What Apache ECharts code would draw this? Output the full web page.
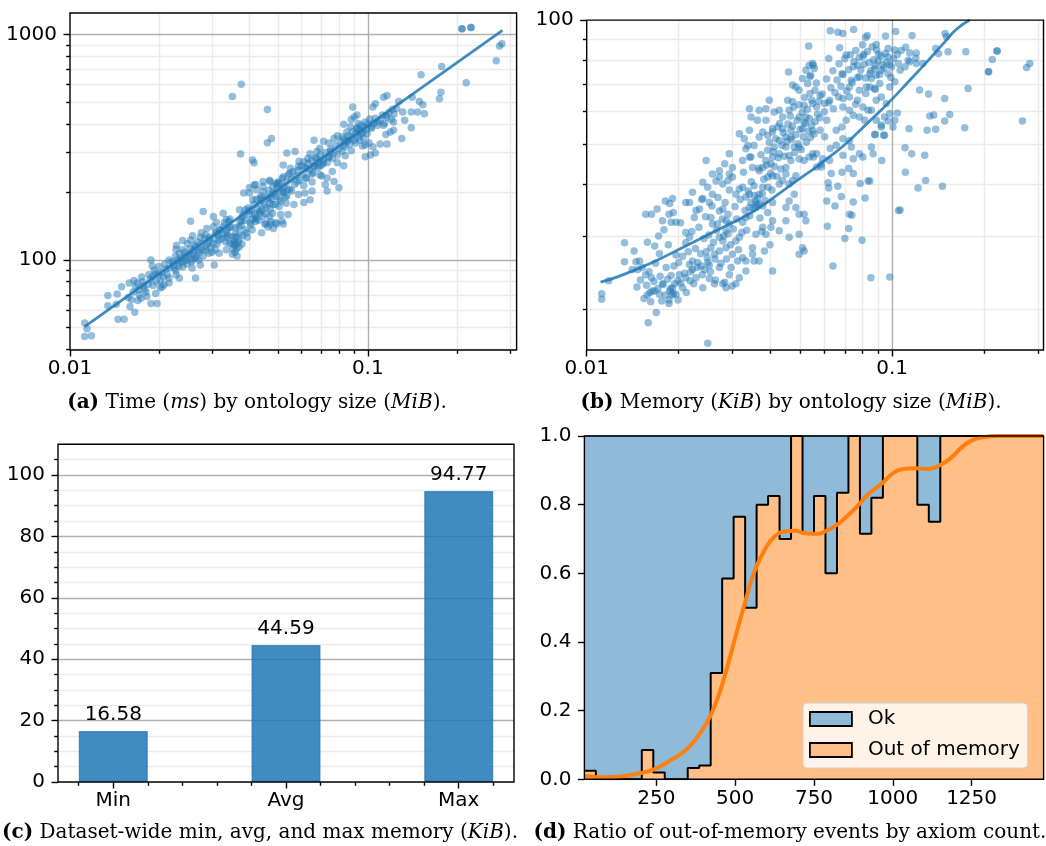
<!DOCTYPE html>
<html><head><meta charset="utf-8">
<script src="https://cdn.jsdelivr.net/npm/echarts@6/dist/echarts.min.js"></script>
<style>html,body{margin:0;padding:0;background:#fff}#c{width:1046px;height:846px}</style>
</head><body><div id="c"></div>
<script>
// ---------------- DATA ----------------
// (a) time (ms) vs ontology size (MiB)
const timeBySize = [
[0.0112,52.5],[0.0112,45.7],[0.0118,46],[0.0114,49.5],[0.0134,69.5],[0.0134,62.5],[0.0144,70.5],[0.0145,54.5],[0.0152,54.5],[0.0149,76],[0.0143,63.5],[0.0158,79],[0.0164,81],[0.0168,79],[0.0159,62],[0.0165,58.5],[0.0161,66.5],[0.0170,73.6],[0.0176,76.5],[0.0181,68.8],[0.0187,64],[0.0196,64],[0.0189,84.4],[0.0194,86.7],[0.0201,81],[0.0207,77.5],[0.0210,91],[0.0187,100],[0.0189,94],[0.0199,93.4],[0.0215,100],[0.0222,95],[0.0227,89.8],[0.0215,83],[0.0233,83],[0.0239,93],[0.0245,99.5],[0.0252,106],[0.0264,114],[0.0264,83],[0.0233,107],[0.0227,111.5],[0.0239,122],[0.0254,122.5],[0.0259,110],[0.0274,126],[0.0286,129],[0.0293,122],[0.0278,111],[0.0271,100],[0.0303,117.5],[0.0310,131],[0.0318,136],[0.0303,140.5],[0.0310,146.5],[0.0327,140.5],[0.0342,148],[0.0336,126],[0.0359,139],[0.0378,149.5],[0.0371,130.5],[0.0359,117.5],[0.0378,117.5],[0.0394,126],[0.0409,136],[0.0420,156],[0.0434,161],[0.0456,171],[0.0468,178.5],[0.0492,191],[0.0479,198],[0.0504,219],[0.0520,234],[0.0546,242],[0.0468,226],[0.0445,212],[0.0423,205],[0.0411,185],[0.0401,198],[0.0468,156],[0.0494,144.5],[0.0520,144.5],[0.0482,138],[0.0280,164],[0.0254,148.5],[0.0303,156],[0.0327,161],[0.0342,139],[0.0371,167],[0.0388,167],[0.0383,198],[0.0415,215],[0.0374,295],[0.0415,270],[0.0305,95],[0.0264,102],[0.0215,79],[0.0201,75],
[0.0233,97],[0.0244,103.5],[0.0257,100],[0.0271,111],[0.0286,114.5],[0.0293,107],[0.0308,111],[0.0317,122.5],[0.0335,131],[0.0352,127],[0.0359,131],[0.0369,122.5],[0.0388,136],[0.0405,143],[0.0420,148],[0.0443,156],[0.0454,145.5],[0.0479,161],[0.0504,172.5],[0.0532,178.5],[0.0538,205],[0.0443,185],[0.0378,156],[0.0343,118.5],[0.0317,107],[0.0257,92],[0.0227,86],[0.0204,76],[0.0194,71],[0.0180,72],[0.0173,67.5],[0.0239,111],[0.0274,95],[0.0335,111],[0.0369,140.5],[0.0399,159],[0.0335,151],[0.0492,219],[0.0520,198],
[0.2071,1063],[0.2221,1076],[0.2071,1063],[0.2221,1076],[0.277,891],[0.282,912],[0.270,765],[0.214,611],[0.177,722],[0.151,663],[0.176,555],[0.174,519],[0.149,505],[0.141,528],[0.153,488],[0.155,446],[0.140,454],[0.131,454],[0.147,454],[0.133,417],[0.140,386],[0.130,346],[0.122,410],[0.119,370],[0.115,360],[0.113,396],[0.122,376],[0.116,537],[0.113,528],[0.106,493],[0.104,477],[0.127,505],[0.121,466],[0.115,439],[0.108,410],[0.103,390],[0.0995,364],[0.097,346],[0.098,324],[0.104,318],[0.106,298],[0.110,327],[0.116,327],[0.102,292],[0.098,287],[0.090,431],[0.0875,390],[0.085,370],[0.092,383],[0.095,364],[0.093,403],[0.089,477],[0.082,352],[0.079,356],[0.083,324],[0.086,340],[0.077,346],[0.074,330],[0.075,303],[0.071,336],[0.069,313],[0.0675,303],[0.066,340],[0.067,283],[0.063,283],[0.061,273],[0.057,303],[0.0535,298],[0.052,264],[0.055,255],[0.0585,260],[0.0625,255],[0.066,260],[0.069,239],[0.073,231],[0.076,247],[0.080,209],[0.073,202],[0.077,223],[0.072,216],[0.065,202],[0.0615,198],[0.064,185],[0.061,180],[0.0585,195],[0.0555,202],[0.052,202],[0.0495,216],[0.047,223],[0.0445,223],[0.042,216],[0.040,209],[0.0435,188],[0.0465,188],[0.048,176],[0.051,182],[0.0535,192],[0.0565,176],[0.051,159],[0.0515,149],[0.049,146],[0.047,144],[0.0435,165],[0.042,152],[0.040,165],[0.054,159],[0.041,278],[0.046,331],[0.0475,346],[0.046,465],[0.0376,602],[0.0351,531],
[0.084,290],[0.088,305],[0.091,330],[0.094,340],[0.079,270],[0.083,262],[0.071,270],[0.074,285],[0.062,230],[0.058,222],[0.065,240],[0.069,262],
[0.0163,72],[0.0171,70],[0.0175,80],[0.0178,74],[0.0183,78],[0.0186,82],[0.0190,77],[0.0192,90],[0.0195,80],[0.0198,86],[0.0184,86],[0.0169,66],[0.0157,68],[0.0166,76],[0.0174,84],[0.0203,88],[0.0206,84],[0.0208,96],[0.0212,86],[0.0216,92],
[0.0220,98],[0.0224,92],[0.0226,104],[0.0230,100],[0.0232,94],[0.0236,102],[0.0240,98],[0.0243,108],[0.0247,96],[0.0250,104],[0.0253,112],[0.0256,98],[0.0260,106],[0.0262,116],[0.0266,104],[0.0268,120],[0.0272,108],[0.0276,118],[0.0280,104],[0.0283,124],[0.0286,110],[0.0290,118],[0.0294,126],[0.0297,114],[0.0300,108],[0.0228,116],[0.0248,118],[0.0258,128],[0.0276,132],[0.0288,138],
[0.0304,124],[0.0308,132],[0.0312,118],[0.0315,128],[0.0320,136],[0.0323,124],[0.0326,130],[0.0330,146],[0.0333,120],[0.0337,136],[0.0340,128],[0.0344,152],[0.0347,140],[0.0350,118],[0.0353,112],[0.0355,122],[0.0357,116],[0.0360,126],[0.0363,112],[0.0366,120],[0.0370,114],[0.0372,148],[0.0376,142],[0.0380,128],[0.0384,160],[0.0388,150],[0.0392,132],[0.0396,170],[0.0351,106],[0.0358,108],[0.0364,104],
[0.0402,146],[0.0406,166],[0.0410,152],[0.0414,176],[0.0418,160],[0.0422,186],[0.0426,168],[0.0430,150],[0.0434,178],[0.0438,192],[0.0442,166],[0.0446,200],[0.0450,176],[0.0455,160],[0.0460,190],[0.0465,204],[0.0470,168],[0.0475,186],[0.0480,212],[0.0485,196],[0.0490,176],[0.0495,206],[0.0500,222],[0.0505,186],[0.0510,200],[0.0516,230],[0.0522,212],[0.0528,190],[0.0534,222],[0.0540,238],[0.0546,206],[0.0452,144],[0.0462,140],[0.0472,148],[0.0440,132],
[0.0553,228],[0.0560,246],[0.0568,216],[0.0575,236],[0.0582,250],[0.0590,226],[0.0598,262],[0.0606,240],[0.0614,256],[0.0622,232],[0.0630,268],[0.0638,250],[0.0646,276],[0.0654,244],[0.0662,262],[0.0670,284],[0.0678,256],[0.0686,272],[0.0694,292],[0.0702,264],[0.0710,280],[0.0720,300],[0.0730,270],[0.0740,288],[0.0750,310],[0.0760,282],[0.0770,300],[0.0780,322],[0.0790,292],[0.0800,312],[0.0610,214],[0.0650,222],[0.0700,236],[0.0588,274],[0.0640,296],
[0.0810,334],[0.0820,304],[0.0830,344],[0.0840,318],[0.0850,336],[0.0860,356],[0.0870,326],[0.0880,348],[0.0890,372],[0.0900,340],[0.0910,362],[0.0920,384],[0.0930,352],[0.0940,376],[0.0950,396],[0.0960,366],[0.0970,388],[0.0980,410],[0.0990,378],[0.1000,400],[0.1015,422],[0.1030,384],[0.1045,404],[0.1060,426],[0.1080,396],[0.1100,418],[0.1120,440],[0.1140,404],[0.1160,430],[0.1180,452],[0.1200,420],[0.1225,444],[0.1250,470],[0.0880,420],[0.0920,440],[0.0830,400],[0.1010,330],[0.0960,320]
];
const timeTrend = [[0.0112,50.6],[0.2833,1046]];

// (b) memory (KiB) vs ontology size (MiB)
const memBySize = [
[0.0112,21.75],[0.0112,21.1],[0.0118,23.4],[0.0133,28.9],[0.0133,26.0],[0.0143,27.6],[0.0145,26.0],[0.0147,24.9],[0.0152,25.2],[0.0158,21.6],[0.0161,21.9],[0.0167,22.1],[0.0159,18.5],[0.0169,19.6],[0.0186,20.6],[0.0163,33.9],[0.0170,34.9],[0.0179,31.1],[0.0181,36.5],[0.0187,36.0],[0.0191,37.0],[0.0186,33.9],[0.0192,34.2],[0.0196,32.4],[0.0203,32.3],[0.0189,32.4],[0.0173,27.2],[0.0167,28.4],[0.0182,25.2],[0.0189,24.1],[0.0194,23.0],[0.0191,22.5],[0.0201,24.2],[0.0206,22.5],[0.0211,23.8],[0.0217,25.6],[0.0222,24.9],[0.0222,26.1],[0.0231,25.9],[0.0237,25.4],[0.0243,24.9],[0.0249,25.9],[0.0240,22.5],[0.0252,23.7],[0.0262,23.0],[0.0272,25.2],[0.0279,23.0],[0.0283,23.2],[0.0297,25.2],[0.0299,22.7],[0.0211,28.9],[0.0217,29.8],[0.0211,30.6],[0.0217,36.2],[0.0222,38.3],[0.0211,36.2],[0.0225,33.3],[0.0234,34.9],[0.0240,37.0],[0.0252,36.2],[0.0255,33.3],[0.0258,32.1],[0.0268,32.1],[0.0272,34.5],[0.0279,34.9],[0.0286,32.7],[0.0290,33.9],[0.0293,32.1],[0.0286,30.9],[0.0279,29.2],[0.0272,27.6],[0.0255,28.1],[0.0262,27.1],[0.0286,28.1],[0.0300,27.1],[0.0308,29.2],[0.0316,29.8],[0.0324,32.4],[0.0332,33.3],[0.0341,35.2],[0.0345,36.2],[0.0358,35.2],[0.0367,35.9],[0.0377,35.5],[0.0391,34.2],[0.0406,36.2],[0.0406,32.7],[0.0401,31.5],[0.0377,31.5],[0.0358,30.3],[0.0349,28.1],[0.0349,27.1],[0.0332,24.7],[0.0324,26.6],[0.0312,26.1],[0.0382,27.6],[0.0406,24.7],[0.0367,26.1],[0.0386,30.3],[0.0240,40.5],[0.0249,39.4],[0.0258,37.9],[0.0272,41.7],[0.0279,40.1],[0.0290,40.9],[0.0300,41.7],[0.0308,37.9],[0.0316,39.0],[0.0324,39.4],[0.0332,37.3],[0.0341,37.9],[0.0353,39.7],[0.0367,37.9],[0.0377,39.4],[0.0391,41.7],[0.0406,42.0],[0.0427,40.1],[0.0438,40.9],[0.0449,42.4],[0.0460,40.1],[0.0472,40.9],[0.0478,37.9],[0.0460,36.5],[0.0449,35.2],[0.0484,35.2],[0.0496,33.9],[0.0515,33.9],[0.0496,30.3],[0.0515,27.6],[0.0509,28.1],[0.0522,32.7],[0.0449,44.0],[0.0466,45.7],[0.0484,42.0],[0.0496,46.1],[0.0515,45.7],[0.0535,46.6],[0.0549,47.5],[0.0406,46.6],[0.0386,45.7],[0.0377,44.0],[0.0367,43.2],[0.0349,44.0],[0.0341,46.6],[0.0332,48.8],[0.0345,46.6],[0.0353,49.7],[0.0367,52.1],[0.0377,53.6],[0.0391,52.6],[0.0406,53.6],[0.0422,55.1],[0.0438,54.6],[0.0449,52.1],[0.0466,52.1],[0.0478,49.3],[0.0427,47.5],[0.0411,49.3],[0.0391,48.4],[0.0401,44.9],[0.0427,51.1],[0.0316,53.1],[0.0328,51.6],[0.0341,54.1],[0.0337,49.7],[0.0324,45.7],[0.0300,44.0],[0.0293,47.5],[0.0283,44.9],[0.0293,42.4],[0.0272,43.2],[0.0258,42.4],[0.0246,45.7],[0.0367,60.5],[0.0386,61.0],[0.0396,64.0],[0.0411,59.9],[0.0427,60.5],[0.0438,58.3],[0.0455,64.0],[0.0472,63.4],[0.0460,60.5],[0.0345,58.3],[0.0341,61.0],[0.0362,57.2],[0.0386,57.2],[0.0406,54.6],[0.0466,54.1],[0.0496,58.3],[0.0509,54.6],[0.0515,56.6],[0.0522,58.3],[0.0484,68.9],[0.0496,67.6],[0.0509,72.2],[0.0522,75.6],[0.0535,77.8],[0.0549,78.5],[0.0472,69.6],[0.0515,62.2],[0.0529,70.2],[0.0541,73.5],[0.0556,76.4],[0.0458,74.9],[0.0533,86.5],[0.0538,66.4],[0.0549,62.8],[0.0496,49.3],[0.0449,49.3],[0.0156,33.9],[0.0177,32.7],[0.0246,27.5],[0.0496,27.1],[0.0460,29.8],[0.0449,32.7],[0.0427,30.9],[0.0286,22.5],[0.0316,23.8],[0.0332,26.1],[0.0353,26.1],[0.0308,23.0],[0.0293,24.2],[0.0264,23.5],[0.0252,25.5],[0.0228,23.8],[0.0218,23.4],[0.0199,23.4],[0.0196,21.7],[0.0187,22.1],[0.0177,23.0],[0.0173,21.7],[0.0164,22.1],[0.0163,23.8],[0.0156,24.2],[0.0149,26.1],[0.0141,24.9],[0.0249,16.5],
[0.0627,94.2],[0.0664,93.5],[0.0690,92.8],[0.0748,94.9],[0.0819,90.8],[0.0829,91.8],[0.0951,91.5],[0.1027,93.9],[0.1162,91.8],[0.1491,92.8],[0.1506,91.1],[0.0673,85.7],[0.0707,82.3],[0.0620,80.7],[0.0808,82.7],[0.0802,81.8],[0.0887,87.3],[0.0903,82.7],[0.0970,81.5],[0.1020,84.6],[0.1107,85.9],[0.1142,83.3],[0.1200,83.3],[0.1195,80.8],[0.1128,80.0],[0.1262,78.5],[0.1389,85.4],[0.1418,83.0],[0.1524,83.8],[0.1742,83.8],[0.2128,80.3],[0.2206,84.2],[0.2206,84.2],[0.2068,75.0],[0.2068,75.0],[0.2822,78.5],[0.2755,76.8],[0.1773,68.3],[0.1486,64.6],[0.1544,59.1],[0.1368,58.9],[0.1328,58.6],[0.1486,57.0],[0.1389,54.4],[0.1302,54.1],[0.1728,54.9],[0.2671,57.0],[0.1230,67.7],[0.1316,66.2],[0.1136,54.6],[0.1040,59.6],[0.1020,57.2],[0.1006,55.1],[0.0938,52.6],[0.0877,52.9],[0.0922,55.7],[0.0970,57.0],[0.0982,59.4],[0.1102,49.1],[0.1159,47.5],[0.1278,47.1],[0.1105,42.8],[0.1287,40.9],[0.1216,39.2],[0.1461,39.6],[0.1049,34.6],[0.1062,34.7],[0.0982,23.9],[0.0852,23.8],[0.0640,25.4],[0.0797,29.3],[0.0700,29.6],[0.0721,31.3],[0.0614,31.7],[0.0746,36.3],[0.0815,37.1],[0.0725,33.9],[0.0738,33.7],[0.0650,35.5],[0.0611,36.5],[0.0682,37.4],[0.0786,40.2],[0.0834,40.8],[0.0845,40.8],[0.0664,39.6],[0.0617,40.4],[0.0746,42.5],[0.0721,43.7],[0.0685,42.8],[0.0632,42.5],[0.0587,44.1],[0.0866,47.5],[0.0925,45.7],[0.0855,49.3],[0.0880,52.8],[0.0944,52.6],[0.0735,49.3],[0.0781,47.5],[0.0802,46.6],[0.0746,46.2],[0.0690,47.1],[0.0656,49.8],[0.0627,48.9],[0.0593,46.2],[0.0566,47.5],[0.0601,52.2],[0.0656,54.1],[0.0685,55.1],[0.0707,57.2],[0.0746,58.8],[0.0781,58.3],[0.0813,57.2],[0.0855,60.5],[0.0887,57.2],[0.0922,55.1],[0.0944,58.3],[0.0770,64.0],[0.0802,61.6],[0.0834,60.5],[0.0887,64.0],[0.0922,65.1],[0.0958,62.8],[0.0725,60.5],[0.0690,61.6],[0.0642,61.0],[0.0601,62.8],[0.0566,61.6],[0.0545,64.0],[0.0581,65.7],[0.0624,64.0],[0.0668,65.1],[0.0725,65.1],[0.0690,64.6],[0.0781,67.6],[0.0845,68.9],[0.0876,68.3],[0.0910,70.2],[0.0982,68.9],[0.1020,70.9],[0.0855,72.2],[0.0887,73.5],[0.0922,75.6],[0.0970,74.2],[0.0995,77.1],[0.1049,78.5],[0.1102,77.1],[0.1142,79.3],[0.1200,78.5],[0.1062,75.6],[0.0876,76.4],[0.0845,74.2],[0.0824,68.9],[0.0781,72.9],[0.0735,71.5],[0.0725,68.9],[0.0770,77.8],[0.0746,77.1],[0.0685,74.2],[0.0559,67.6],[0.0538,72.9],[0.0552,77.8],[0.0611,57.2],[0.0581,54.1],[0.0690,51.6],[0.0725,51.1],[0.0566,44.1],[0.0552,46.6],[0.0624,45.7],
[0.0146,22.6],[0.0150,23.5],[0.0154,21.2],[0.0157,22.8],[0.0160,24.6],[0.0162,20.8],[0.0166,23.3],[0.0168,25.8],[0.0171,22.4],[0.0174,24.0],[0.0176,20.9],[0.0178,22.9],[0.0181,21.6],[0.0184,23.6],[0.0186,21.0],[0.0188,22.4],[0.0190,21.6],[0.0192,21.8],[0.0193,25.4],[0.0196,27.0],[0.0199,21.0],[0.0200,25.9],[0.0185,28.6],[0.0172,30.0],[0.0158,29.0],
[0.0203,23.1],[0.0206,26.8],[0.0209,24.4],[0.0212,21.9],[0.0215,27.5],[0.0219,24.6],[0.0221,30.8],[0.0224,23.0],[0.0227,28.0],[0.0230,25.2],[0.0233,31.5],[0.0236,27.2],[0.0239,24.2],[0.0242,29.6],[0.0245,33.4],[0.0248,26.6],[0.0251,30.2],[0.0254,24.6],[0.0257,35.5],[0.0260,29.0],[0.0263,26.4],[0.0266,31.0],[0.0269,37.2],[0.0272,29.8],[0.0275,25.8],[0.0278,33.0],[0.0281,30.0],[0.0284,36.2],[0.0287,26.4],[0.0290,30.4],[0.0293,38.8],[0.0296,28.6],[0.0228,34.6],[0.0238,36.8],[0.0265,40.8],
[0.0302,31.2],[0.0306,35.4],[0.0310,33.0],[0.0314,27.8],[0.0318,36.8],[0.0322,30.6],[0.0326,42.8],[0.0330,34.6],[0.0334,31.0],[0.0338,38.6],[0.0342,33.6],[0.0346,40.6],[0.0350,35.0],[0.0354,37.6],[0.0357,36.4],[0.0360,35.8],[0.0363,37.0],[0.0366,43.8],[0.0369,33.2],[0.0372,47.2],[0.0376,38.0],[0.0380,41.2],[0.0384,36.6],[0.0388,44.6],[0.0392,39.4],[0.0396,50.6],[0.0400,42.6],[0.0404,38.8],[0.0408,48.0],[0.0412,44.2],[0.0416,51.6],[0.0420,41.8],[0.0424,46.4],[0.0428,56.2],[0.0432,43.6],[0.0436,49.8],[0.0440,53.4],[0.0444,46.8],[0.0374,30.8],[0.0398,28.6],
[0.0452,50.8],[0.0456,56.0],[0.0460,47.0],[0.0464,58.6],[0.0468,51.4],[0.0472,55.4],[0.0476,61.6],[0.0480,47.8],[0.0484,52.8],[0.0488,57.2],[0.0492,50.2],[0.0496,62.4],[0.0500,54.4],[0.0504,48.6],[0.0508,59.8],[0.0512,52.2],[0.0516,65.0],[0.0520,56.2],[0.0524,50.6],[0.0528,60.8],[0.0532,53.8],[0.0536,57.8],[0.0540,52.0],[0.0545,55.6],[0.0550,54.0],[0.0555,53.0],[0.0560,56.8],[0.0565,70.4],[0.0570,59.2],[0.0575,63.6],[0.0580,58.0],[0.0590,66.2],[0.0600,60.0],[0.0610,72.0],[0.0620,63.2],[0.0630,68.6],[0.0640,75.4],[0.0650,66.8],[0.0585,44.8],[0.0620,39.2],
[0.0660,71.6],[0.0670,78.4],[0.0680,69.2],[0.0690,73.8],[0.0700,80.6],[0.0710,67.4],[0.0720,75.8],[0.0730,82.4],[0.0740,70.6],[0.0750,79.4],[0.0760,84.4],[0.0770,72.6],[0.0780,81.2],[0.0790,75.8],[0.0800,87.2],[0.0810,78.2],[0.0820,72.4],[0.0830,84.0],[0.0840,79.0],[0.0850,75.4],[0.0860,86.2],[0.0870,80.2],[0.0880,77.6],[0.0890,84.6],[0.0900,79.6],[0.0910,73.8],[0.0920,81.8],[0.0930,78.0],[0.0940,76.6],[0.0950,83.0],[0.0960,79.2],[0.0970,85.4],[0.0980,78.0],[0.0990,72.6],[0.1010,80.6],[0.1040,82.6],[0.1070,84.4],[0.0760,62.6],[0.0820,66.4],[0.0880,68.0]
];
const memTrend = [[0.0111,23.2],[0.0128,24.0],[0.0164,25.9],[0.0211,28.4],[0.0272,31.2],[0.0332,33.6],[0.0377,35.6],[0.0449,39.1],[0.0509,41.8],[0.0563,44.0],[0.0608,46.0],[0.0690,49.5],[0.0781,53.9],[0.0887,59.0],[0.0996,64.2],[0.1142,71.5],[0.1295,79.0],[0.1468,87.6],[0.1624,95.0],[0.1795,100]];

// (c) dataset-wide memory stats (KiB)
const memCategories = ['Min', 'Avg', 'Max'];
const memStats = [16.58, 44.59, 94.77];

// (d) out-of-memory ratio by axiom count
const axiomBinEdges = [21.5,57.9,94.4,130.8,167.2,203.6,240.1,276.5,312.9,349.3,385.8,422.2,458.6,495.0,531.5,567.9,604.3,640.7,677.2,713.6,750.0,786.4,822.9,859.3,895.7,932.1,968.6,1005.0,1041.4,1077.8,1114.3,1150.7,1187.1,1223.5,1260.0,1296.4,1332.8,1369.2,1405.7,1442.1,1478.5];
const oomRatio = [0.025,0,0,0,0,0.085,0.02,0,0,0.033,0.04,0.31,0.585,0.765,0.50,0.80,0.825,0.70,1.0,0.715,0.825,0.60,0.835,1.0,0.715,0.82,1.0,1.0,1.0,0.80,0.75,1.0,1.0,1.0,1.0,1.0,1.0,1.0,1.0,1.0];
const kdeX = [23,83,135,189,242,295,349,402,434,466,498,529,561,593,625,657,689,721,763,785,822,859,891,923,966,997,1029,1072,1114,1152,1189,1221,1253,1285,1327,1400,1478];
const kdeY = [0.010,0.006,0.008,0.016,0.029,0.056,0.090,0.153,0.211,0.299,0.406,0.508,0.605,0.668,0.707,0.722,0.724,0.717,0.715,0.722,0.741,0.770,0.799,0.831,0.862,0.889,0.903,0.906,0.904,0.916,0.940,0.969,0.988,0.996,1.0,1.0,1.0];

// tick values / labels
const sizeTicks = [0.01, 0.1];
const sizeTickLabels = ['0.01', '0.1'];
const sizeMinorTicks = [0.02,0.03,0.04,0.05,0.06,0.07,0.08,0.09,0.2,0.3];
const timeTicks = [100, 1000];
const timeTickLabels = ['100', '1000'];
const timeMinorTicks = [40,50,60,70,80,90,200,300,400,500,600,700,800,900];
const memTicks = [100];
const memTickLabels = ['100'];
const memMinorTicks = [20,30,40,50,60,70,80,90];
const statTicks = [0,20,40,60,80,100];
const statMinorTicks = [5,10,15,25,30,35,45,50,55,65,70,75,85,90,95,105];
const statCatMinorTicks = [-0.2,0.2,0.4,0.6,0.8,1.2,1.4,1.6,1.8,2.2];
const ratioTicks = [0,0.2,0.4,0.6,0.8,1.0];
const axiomTicks = [250,500,750,1000,1250];

// ---------------- CHART ----------------
const FONT = 'DejaVu Sans';
const LBL = 20;
const MAJ = '#b0b0b0', MIN = '#ebebeb';
const chart = echarts.init(document.getElementById('c'), null, {renderer: 'canvas'});
const lg = Math.log10;

function lookup(vals, labels) {
  return function (v) {
    for (let i = 0; i < vals.length; i++) if (Math.abs(vals[i] - v) < 1e-6) return labels[i];
    return '';
  };
}
function dataAxis(type, grid, min, max, pos) {
  return {type: type, gridIndex: grid, min: min, max: max, position: pos, logBase: 10,
    axisLine: {show: false, onZero: false}, axisTick: {show: false}, axisLabel: {show: false},
    splitLine: {show: false}, minorTick: {show: false}, axisPointer: {show: false}};
}
function tickAxis(grid, min, max, pos, ticks, len, labelFmt, margin) {
  return {type: 'value', gridIndex: grid, min: min, max: max, position: pos,
    axisLine: {show: false, onZero: false}, splitLine: {show: false}, axisPointer: {show: false},
    axisTick: {show: true, customValues: ticks, length: len, lineStyle: {color: '#000', width: 1.4}},
    axisLabel: labelFmt ? {show: true, customValues: ticks, formatter: labelFmt, margin: margin,
      color: '#000', fontSize: LBL, fontFamily: FONT} : {show: false}};
}
function gridLineSeries(ax, xs, ys, color, z) {
  return {type: 'line', data: [], xAxisIndex: ax, yAxisIndex: ax, silent: true, z: z,
    markLine: {silent: true, z: z, symbol: ['none', 'none'], animation: false, label: {show: false},
      emphasis: {disabled: true},
      lineStyle: {color: color, width: 1.4, type: 'solid'},
      data: xs.map(v => ({xAxis: v})).concat(ys.map(v => ({yAxis: v})))}};
}

const aX = [0.01, 0.316], aY = [39.8, 1248];
const bX = [0.01, 0.313], bY = [15.9, 100];
const cX = [-0.32, 2.32], cY = [0, 110];
const dX = [axiomBinEdges[0], axiomBinEdges[axiomBinEdges.length - 1]], dY = [0, 1];

const logSizeFmt = v => lookup(sizeTicks.map(lg), sizeTickLabels)(v);

const xAxes = [
  dataAxis('log', 0, aX[0], aX[1], 'bottom'),
  tickAxis(0, lg(aX[0]), lg(aX[1]), 'bottom', sizeTicks.map(lg), 6.5, logSizeFmt, 9),
  tickAxis(0, lg(aX[0]), lg(aX[1]), 'bottom', sizeMinorTicks.map(lg), 3.8, null),
  dataAxis('log', 1, bX[0], bX[1], 'bottom'),
  tickAxis(1, lg(bX[0]), lg(bX[1]), 'bottom', sizeTicks.map(lg), 6.5, logSizeFmt, 9),
  tickAxis(1, lg(bX[0]), lg(bX[1]), 'bottom', sizeMinorTicks.map(lg), 3.8, null),
  tickAxis(2, cX[0], cX[1], 'bottom', [0, 1, 2], 6.5, v => memCategories[Math.round(v)], 9),
  tickAxis(2, cX[0], cX[1], 'bottom', statCatMinorTicks, 3.8, null),
  tickAxis(3, dX[0], dX[1], 'bottom', axiomTicks, 6.5, v => String(v), 9)
];
const yAxes = [
  dataAxis('log', 0, aY[0], aY[1], 'left'),
  tickAxis(0, lg(aY[0]), lg(aY[1]), 'left', timeTicks.map(lg), 6.5, lookup(timeTicks.map(lg), timeTickLabels), 13),
  tickAxis(0, lg(aY[0]), lg(aY[1]), 'left', timeMinorTicks.map(lg), 3.8, null),
  dataAxis('log', 1, bY[0], bY[1], 'left'),
  tickAxis(1, lg(bY[0]), lg(bY[1]), 'left', memTicks.map(lg), 6.5, lookup(memTicks.map(lg), memTickLabels), 13),
  tickAxis(1, lg(bY[0]), lg(bY[1]), 'left', memMinorTicks.map(lg), 3.8, null),
  tickAxis(2, cY[0], cY[1], 'left', statTicks, 6.5, v => String(v), 13),
  tickAxis(2, cY[0], cY[1], 'left', statMinorTicks, 3.8, null),
  tickAxis(3, dY[0], dY[1], 'left', ratioTicks, 6.5, v => v.toFixed(1), 13)
];

const gridBase = {show: true, z: 10, borderColor: '#000', borderWidth: 1.4, backgroundColor: 'rgba(0,0,0,0)', containLabel: false};
const grids = [
  Object.assign({left: 70, top: 13, width: 446.6, height: 337}, gridBase),
  Object.assign({left: 586.7, top: 20.1, width: 456.8, height: 329.9}, gridBase),
  Object.assign({left: 58, top: 444.3, width: 456, height: 337.7}, gridBase),
  Object.assign({left: 584.4, top: 436, width: 459.2, height: 343.3}, gridBase)
];

const stepPts = [];
oomRatio.forEach((r, i) => { stepPts.push([axiomBinEdges[i], r]); stepPts.push([axiomBinEdges[i + 1], r]); });
const kdePts = kdeX.map((x, i) => [x, kdeY[i]]);

const blue = '#1f77b4';
const series = [
  gridLineSeries(0, sizeMinorTicks, timeMinorTicks, MIN, 0),
  gridLineSeries(0, [0.1], timeTicks, MAJ, 1),
  {type: 'scatter', xAxisIndex: 0, yAxisIndex: 0, data: timeBySize, symbolSize: 7.5, z: 3,
    itemStyle: {color: blue, opacity: 0.48}, silent: true},
  {type: 'line', xAxisIndex: 0, yAxisIndex: 0, data: timeTrend, showSymbol: false, z: 4, silent: true,
    lineStyle: {color: 'rgba(31,119,180,0.85)', width: 2.8}},
  gridLineSeries(3, sizeMinorTicks, memMinorTicks, MIN, 0),
  gridLineSeries(3, [0.1], [], MAJ, 1),
  {type: 'scatter', xAxisIndex: 3, yAxisIndex: 3, data: memBySize, symbolSize: 7.5, z: 3,
    itemStyle: {color: blue, opacity: 0.48}, silent: true},
  {type: 'line', xAxisIndex: 3, yAxisIndex: 3, data: memTrend, showSymbol: false, smooth: true, z: 4, silent: true,
    lineStyle: {color: 'rgba(31,119,180,0.85)', width: 2.8}},
  gridLineSeries(6, [], statMinorTicks, MIN, 0),
  gridLineSeries(6, [], statTicks.slice(1), MAJ, 1),
  {type: 'bar', xAxisIndex: 6, yAxisIndex: 6, data: memStats.map((v, i) => [i, v]), barWidth: 69, z: 3, silent: true,
    itemStyle: {color: 'rgba(31,119,180,0.85)', borderColor: 'rgba(31,119,180,0.75)', borderWidth: 1.2},
    label: {show: true, position: 'top', distance: 6, color: '#000', fontSize: LBL, fontFamily: FONT,
      formatter: p => p.value[1].toFixed(2)}},
  {name: 'Ok', type: 'line', xAxisIndex: 8, yAxisIndex: 8, data: [[dX[0], 1], [dX[1], 1]], showSymbol: false, z: 2, silent: true,
    itemStyle: {color: '#8fbbd9'}, lineStyle: {width: 1.4, color: '#2f6f9f'}, areaStyle: {color: '#8fbbd9', opacity: 1}},
  {name: 'Out of memory', type: 'line', xAxisIndex: 8, yAxisIndex: 8, data: stepPts, showSymbol: false, z: 3, silent: true,
    itemStyle: {color: '#ffbf86'}, lineStyle: {width: 2, color: '#000'}, areaStyle: {color: '#ffbf86', opacity: 1}},
  {name: 'kde', type: 'line', xAxisIndex: 8, yAxisIndex: 8, data: kdePts, showSymbol: false, smooth: true, z: 4, silent: true,
    lineStyle: {width: 4, color: '#ff7f0e'}}
];

const CAP = 20;
const RICH = {
  b: {fontFamily: 'DejaVu Serif', fontSize: CAP, fontWeight: 'bold', color: '#000'},
  i: {fontFamily: 'DejaVu Serif', fontSize: CAP, fontStyle: 'italic', color: '#000'}
};
const captions = [
  {x: 257, y: 403, text: '{b|(a)} Time ({i|ms}) by ontology size ({i|MiB}).'},
  {x: 791, y: 403, text: '{b|(b)} Memory ({i|KiB}) by ontology size ({i|MiB}).'},
  {x: 260, y: 833, text: '{b|(c)} Dataset-wide min, avg, and max memory ({i|KiB}).'},
  {x: 790, y: 833, text: '{b|(d)} Ratio of out-of-memory events by axiom count.'}
];

chart.setOption({
  animation: false,
  backgroundColor: '#fff',
  grid: grids,
  xAxis: xAxes,
  yAxis: yAxes,
  series: series,
  legend: {
    data: [
      {name: 'Ok', icon: 'rect', itemStyle: {color: '#8fbbd9', borderColor: '#000', borderWidth: 1.8}},
      {name: 'Out of memory', icon: 'rect', itemStyle: {color: '#ffbf86', borderColor: '#000', borderWidth: 1.8}}
    ],
    orient: 'vertical', left: 803, top: 703, itemWidth: 42, itemHeight: 14, itemGap: 11,
    selectedMode: false, z: 20,
    backgroundColor: 'rgba(255,255,255,0.8)', borderColor: '#d0d0d0', borderWidth: 1, borderRadius: 4,
    padding: [6, 8, 8, 6],
    textStyle: {fontSize: LBL, fontFamily: FONT, color: '#000', padding: [0, 0, 0, 11]}
  },
  graphic: captions.map(c => ({
    type: 'text', x: c.x, y: c.y, silent: true, z: 30,
    style: {text: c.text, rich: RICH, font: CAP + 'px "DejaVu Serif"', fill: '#000',
      align: 'center', verticalAlign: 'middle', textAlign: 'center', textVerticalAlign: 'middle'}
  }))
});
</script>
</body></html>
